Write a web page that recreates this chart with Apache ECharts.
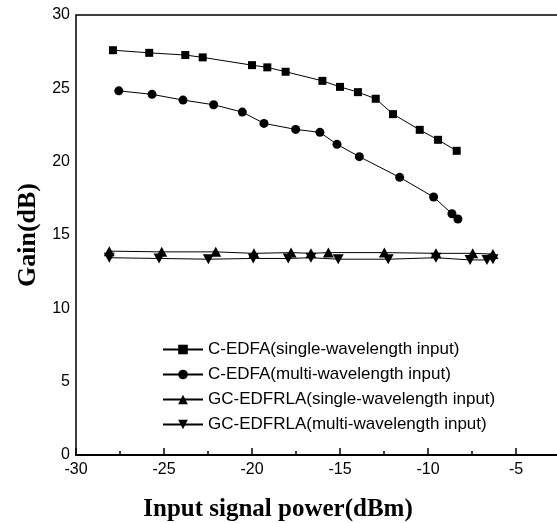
<!DOCTYPE html>
<html>
<head>
<meta charset="UTF-8">
<title>Gain vs input signal power</title>
<script src="https://cdn.jsdelivr.net/npm/echarts@6/dist/echarts.min.js" type="text/javascript"></script>
<style type="text/css">
    html,body{
        margin:0;
        padding:0;
        background:#fff;
    }
</style>
</head>
<body>
<div id="container" style="width:557px;height:523px"></div>
<script type="text/javascript">
	// C-EDFA, single-wavelength input (squares)
	var cSingleX = [-27.9, -25.84, -23.79, -22.8, -20.0, -19.13, -18.09, -16.0, -15.0, -13.98, -12.97, -11.99, -10.47, -9.43, -8.37];
	var cSingleY = [27.6, 27.42, 27.27, 27.11, 26.58, 26.43, 26.13, 25.51, 25.1, 24.74, 24.29, 23.24, 22.17, 21.49, 20.74];
	// C-EDFA, multi-wavelength input (circles)
	var cMultiX = [-27.57, -25.68, -23.92, -22.18, -20.55, -19.32, -17.52, -16.14, -15.17, -13.9, -11.61, -9.68, -8.64, -8.3];
	var cMultiY = [24.83, 24.59, 24.2, 23.88, 23.38, 22.61, 22.2, 22.0, 21.18, 20.34, 18.93, 17.59, 16.45, 16.09];
	// GC-EDFRLA, single-wavelength input (up triangles)
	var gcSingleX = [-28.11, -25.13, -22.06, -19.89, -17.78, -16.65, -15.66, -12.48, -9.55, -7.46, -6.31];
	var gcSingleY = [13.9, 13.85, 13.85, 13.75, 13.8, 13.75, 13.8, 13.8, 13.75, 13.75, 13.7];
	// GC-EDFRLA, multi-wavelength input (down triangles)
	var gcMultiX = [-28.11, -25.28, -22.48, -19.93, -17.94, -16.65, -15.1, -12.26, -9.55, -7.61, -6.65, -6.31];
	var gcMultiY = [13.45, 13.4, 13.35, 13.4, 13.4, 13.45, 13.35, 13.35, 13.45, 13.3, 13.3, 13.35];

	var names = [
		'C-EDFA(single-wavelength input)',
		'C-EDFA(multi-wavelength input)',
		'GC-EDFRLA(single-wavelength input)',
		'GC-EDFRLA(multi-wavelength input)'
	];

	function pairs(xs, ys) {
		var out = [];
		for (var i = 0; i < xs.length; i++) out.push([xs[i], ys[i]]);
		return out;
	}

	function lineSeries(name, data, symbol, size, rotate) {
		return {
			name: name,
			type: 'line',
			data: data,
			symbol: symbol,
			symbolSize: size,
			symbolRotate: rotate || 0,
			showAllSymbol: true,
			itemStyle: { color: '#000' },
			lineStyle: { color: '#000', width: 1 },
			emphasis: { disabled: true }
		};
	}

	var sans = 'Liberation Sans';
	var serif = 'Liberation Serif';

	var chart = echarts.init(document.getElementById('container'));
	var option = {
		animation: false,
		backgroundColor: '#fff',
		grid: {
			left: 76,
			right: -47,
			top: 15,
			bottom: 68,
			containLabel: false,
			outerBoundsMode: 'none',
			show: true,
			borderColor: '#000',
			borderWidth: 1.5
		},
		legend: {
			orient: 'vertical',
			left: 157,
			top: 336,
			itemWidth: 40,
			itemHeight: 12,
			itemGap: 8,
			textStyle: { fontFamily: sans, fontSize: 17, color: '#000' },
			data: names
		},
		xAxis: {
			type: 'value',
			min: -30,
			max: 0,
			interval: 5,
			name: 'Input signal power(dBm)',
			nameLocation: 'middle',
			nameGap: 42,
			nameTextStyle: {
				fontFamily: serif, fontWeight: 'bold', fontSize: 25, color: '#000',
				padding: [0, 124, 0, 0]
			},
			axisLine: { show: true, lineStyle: { color: '#000', width: 2 } },
			axisTick: { show: true, inside: true, length: 7, lineStyle: { color: '#000', width: 1.5 } },
			minorTick: { show: true, splitNumber: 2, length: 4, lineStyle: { color: '#000', width: 1.5 } },
			axisLabel: { fontFamily: sans, fontSize: 16, color: '#000', margin: 7 },
			splitLine: { show: false }
		},
		yAxis: {
			type: 'value',
			min: 0,
			max: 30,
			interval: 5,
			name: 'Gain(dB)',
			nameLocation: 'middle',
			nameGap: 35,
			nameTextStyle: { fontFamily: serif, fontWeight: 'bold', fontSize: 26, color: '#000' },
			axisLine: { show: true, lineStyle: { color: '#000', width: 2 } },
			axisTick: { show: true, inside: true, length: 7, lineStyle: { color: '#000', width: 1.5 } },
			minorTick: { show: true, splitNumber: 2, length: 4, lineStyle: { color: '#000', width: 1.5 } },
			axisLabel: { fontFamily: sans, fontSize: 16, color: '#000', margin: 6 },
			splitLine: { show: false }
		},
		series: [
			lineSeries(names[0], pairs(cSingleX, cSingleY), 'rect', 8),
			lineSeries(names[1], pairs(cMultiX, cMultiY), 'circle', 9),
			lineSeries(names[2], pairs(gcSingleX, gcSingleY), 'triangle', [11, 10]),
			lineSeries(names[3], pairs(gcMultiX, gcMultiY), 'triangle', [11, 10], 180)
		]
	};
	chart.setOption(option);
</script>
</body>
</html>
